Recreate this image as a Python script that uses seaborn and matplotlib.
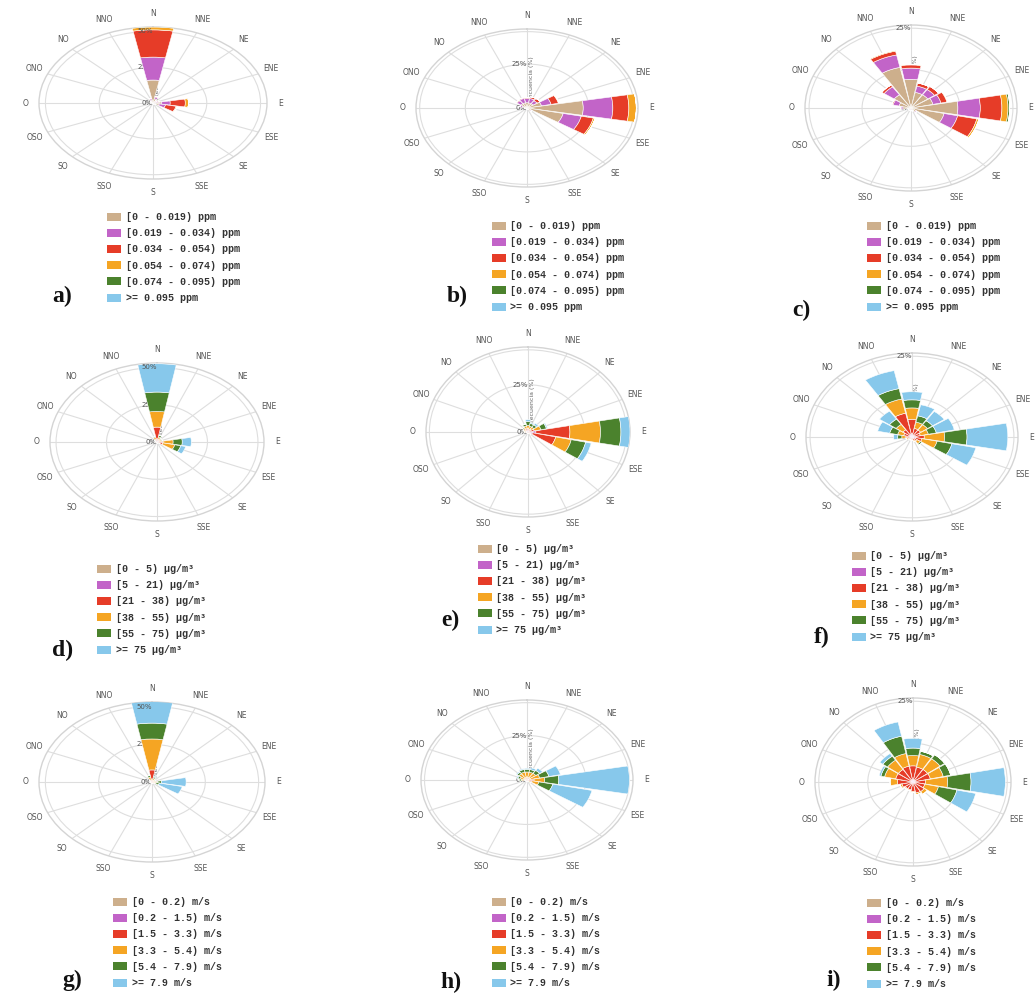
import numpy as np
import matplotlib
matplotlib.use("Agg")
import matplotlib.pyplot as plt
from matplotlib.patches import Patch
import seaborn as sns

sns.set_theme(style="white")
plt.rcParams['font.family'] = ['DejaVu Sans']

W, H = 1036, 996

directions = ["N", "NNE", "NE", "ENE", "E", "ESE", "SE", "SSE",
              "S", "SSO", "SO", "OSO", "O", "ONO", "NO", "NNO"]
bin_colors = ["#cdaf8c", "#c264c8", "#e63c28", "#f5a523", "#4b822d", "#87c8eb"]

ppm_labels = ["[0 - 0.019) ppm", "[0.019 - 0.034) ppm", "[0.034 - 0.054) ppm",
              "[0.054 - 0.074) ppm", "[0.074 - 0.095) ppm", ">= 0.095 ppm"]
pm_labels = ["[0 - 5) µg/m³", "[5 - 21) µg/m³", "[21 - 38) µg/m³",
             "[38 - 55) µg/m³", "[55 - 75) µg/m³", ">= 75 µg/m³"]
ws_labels = ["[0 - 0.2) m/s", "[0.2 - 1.5) m/s", "[1.5 - 3.3) m/s",
             "[3.3 - 5.4) m/s", "[5.4 - 7.9) m/s", ">= 7.9 m/s"]

# Frequencies (%) per bin (rows) and direction (columns: N ... NNO)
a_values = [
    [16, 3, 1.2, 1.5, 4, 3, 1, 0.7, 0.4, 0.4, 0.4, 0.4, 0.7, 0.7, 1, 2],
    [16, 1.2, 0.5, 1, 4, 3, 0.4, 0.3, 0.1, 0.1, 0.1, 0.1, 0.3, 0.3, 0.4, 1],
    [19, 0.5, 0.3, 0.5, 7, 5, 0.1, 0, 0, 0, 0, 0, 0, 0, 0.1, 0.3],
    [2, 0, 0, 0, 1.5, 0.5, 0, 0, 0, 0, 0, 0, 0, 0, 0, 0],
    [0.3, 0, 0, 0, 0, 0, 0, 0, 0, 0, 0, 0, 0, 0, 0, 0],
    [0, 0, 0, 0, 0, 0, 0, 0, 0, 0, 0, 0, 0, 0, 0, 0],
]
b_values = [
    [3, 3, 3, 6, 22.8, 15, 2, 0.8, 0.6, 0.4, 0.4, 0.4, 0.8, 2, 3, 3],
    [2.5, 2.5, 2, 4, 12, 7.5, 0.5, 0.2, 0.2, 0.1, 0.1, 0.1, 0.2, 1, 2, 2.5],
    [0.5, 1, 1.5, 3, 6.5, 5, 0, 0, 0, 0, 0, 0, 0, 0, 0.5, 0.5],
    [0, 0, 0, 0.3, 3, 0.7, 0, 0, 0, 0, 0, 0, 0, 0, 0, 0],
    [0, 0, 0, 0, 0, 0, 0, 0, 0, 0, 0, 0, 0, 0, 0, 0],
    [0, 0, 0, 0, 0, 0, 0, 0, 0, 0, 0, 0, 0, 0, 0, 0],
]
c_values = [
    [9, 5, 5, 5.5, 11.5, 8.3, 1.5, 0.8, 0.6, 0.6, 0.6, 0.6, 2, 3, 5, 13],
    [3.5, 2, 2, 2, 5.5, 3.4, 0.3, 0.2, 0.2, 0.2, 0.2, 0.2, 0.5, 1.5, 3, 4],
    [1, 1, 1.2, 1.5, 5.3, 4.8, 0, 0, 0, 0, 0, 0, 0, 0.3, 0.7, 1.2],
    [0.2, 0, 0, 0.2, 1.5, 0.5, 0, 0, 0, 0, 0, 0, 0, 0, 0, 0.3],
    [0, 0, 0, 0, 0.4, 0, 0, 0, 0, 0, 0, 0, 0, 0, 0, 0],
    [0, 0, 0, 0, 0, 0, 0, 0, 0, 0, 0, 0, 0, 0, 0, 0],
]
d_values = [
    [1, 0.5, 0.4, 0.4, 0.5, 0.5, 0.3, 0.2, 0.1, 0.1, 0.1, 0.1, 0.2, 0.2, 0.3, 0.4],
    [1, 0.5, 0.4, 0.4, 0.5, 0.5, 0.3, 0.2, 0.1, 0.1, 0.1, 0.1, 0.2, 0.2, 0.3, 0.4],
    [8, 1, 0.7, 0.7, 2, 2, 0.4, 0.3, 0.2, 0.2, 0.2, 0.2, 0.3, 0.3, 0.4, 1],
    [10.5, 1.5, 1, 1, 5, 6, 0.4, 0.3, 0.1, 0.1, 0.1, 0.1, 0.3, 0.3, 0.4, 1.5],
    [13, 1, 0.5, 0.5, 4.5, 3, 0.2, 0, 0, 0, 0, 0, 0, 0, 0.2, 0.5],
    [19, 0, 0, 0, 4.5, 2.5, 0, 0, 0, 0, 0, 0, 0, 0, 0, 0],
]
e_values = [
    [0.5, 0.3, 0.3, 0.4, 2, 1, 0.3, 0.2, 0.2, 0.2, 0.2, 0.2, 0.3, 0.3, 0.4, 0.4],
    [0.5, 0.3, 0.3, 0.4, 1.5, 1, 0.3, 0.2, 0.2, 0.2, 0.2, 0.2, 0.3, 0.3, 0.4, 0.4],
    [1, 1, 1, 2, 15, 10.5, 0.5, 0.4, 0.3, 0.2, 0.2, 0.2, 0.5, 0.7, 0.8, 1],
    [1.5, 1.5, 1.5, 3, 13.5, 7, 0.5, 0.2, 0.1, 0.1, 0.1, 0.1, 0.5, 0.7, 1, 1.5],
    [2, 1.5, 1.5, 2.5, 9, 6.5, 0, 0, 0, 0, 0, 0, 0, 0.3, 0.5, 1],
    [1, 0.5, 1, 0.5, 4, 2.5, 0, 0, 0, 0, 0, 0, 0, 0, 0, 0],
]
f_values = [
    [0.3, 0.2, 0.2, 0.2, 0.3, 0.3, 0.2, 0.2, 0.2, 0.2, 0.2, 0.2, 0.2, 0.2, 0.2, 0.3],
    [0.7, 0.5, 0.4, 0.4, 0.7, 0.7, 0.3, 0.3, 0.2, 0.2, 0.2, 0.3, 0.3, 0.4, 0.5, 0.7],
    [4.5, 2, 2, 1.5, 2, 1.5, 1, 0.6, 0.4, 0.4, 0.4, 0.6, 1, 1.5, 2, 6.5],
    [3.5, 2, 2, 2, 5, 3.8, 1, 0.4, 0.2, 0.2, 0.2, 0.4, 1, 1.5, 2, 4.5],
    [2.5, 2, 1.5, 2, 5.5, 3.7, 0.5, 0, 0, 0, 0, 0, 1, 2, 2, 3.3],
    [2.5, 3.5, 3.5, 4.5, 10, 6, 0, 0, 0, 0, 0, 0, 1, 3, 3, 5.7],
]
g_values = [
    [0.5, 0.2, 0.2, 0.2, 0.2, 0.2, 0.2, 0.2, 0.2, 0.2, 0.2, 0.2, 0.2, 0.2, 0.2, 0.2],
    [0.5, 0.2, 0.2, 0.2, 0.3, 0.3, 0.2, 0.2, 0.2, 0.2, 0.2, 0.2, 0.2, 0.2, 0.2, 0.2],
    [7, 0.5, 0.5, 0.5, 0.5, 0.5, 0.4, 0.3, 0.3, 0.2, 0.2, 0.2, 0.3, 0.3, 0.5, 1],
    [20.5, 1.5, 0.7, 0.7, 1.5, 1, 0.5, 0.3, 0.3, 0.2, 0.2, 0.2, 0.3, 0.3, 0.5, 2],
    [10.5, 1, 0.4, 0.4, 2, 1.5, 0.2, 0, 0, 0, 0, 0, 0, 0, 0.2, 1],
    [15, 0.5, 0, 0, 11.5, 11, 0, 0, 0, 0, 0, 0, 0, 0, 0, 0],
]
h_values = [
    [0.2, 0.2, 0.2, 0.2, 0.3, 0.2, 0.2, 0.2, 0.2, 0.2, 0.2, 0.2, 0.2, 0.2, 0.2, 0.2],
    [0.3, 0.3, 0.3, 0.3, 0.7, 0.5, 0.2, 0.2, 0.2, 0.2, 0.2, 0.2, 0.3, 0.3, 0.3, 0.3],
    [1, 1, 1, 1, 2, 1.5, 0.3, 0.3, 0.2, 0.2, 0.2, 0.2, 0.4, 0.5, 0.7, 1],
    [3, 3, 3, 4, 4.5, 3, 1, 0.4, 0.3, 0.2, 0.2, 0.3, 1.5, 2, 3, 3],
    [1.5, 1.5, 2, 4, 6, 6, 0.5, 0, 0, 0, 0, 0, 1, 1, 1, 1.5],
    [0.5, 1, 1.5, 5, 30, 17, 0, 0, 0, 0, 0, 0, 0, 0.5, 0.5, 0.5],
]
i_values = [
    [0.2, 0.2, 0.2, 0.2, 0.2, 0.2, 0.2, 0.2, 0.2, 0.2, 0.2, 0.2, 0.2, 0.2, 0.2, 0.2],
    [0.5, 0.5, 0.5, 0.5, 0.5, 0.5, 0.4, 0.3, 0.3, 0.3, 0.3, 0.3, 0.4, 0.5, 0.5, 0.6],
    [4.3, 4, 4, 4, 2.6, 2.5, 3, 3, 2.5, 2, 2, 2.5, 3.5, 4, 4, 4.2],
    [3.2, 4, 4, 3.5, 5.9, 3.7, 1, 0.5, 0.3, 0.3, 0.3, 0.5, 2, 3, 3.5, 4],
    [2.3, 1, 1.5, 2, 6.2, 5, 0, 0, 0, 0, 0, 0, 0, 1, 1.5, 5.5],
    [3, 0, 0, 0, 9.1, 5.1, 0, 0, 0, 0, 0, 0, 0, 0.5, 1, 4.5],
]

fig = plt.figure(figsize=(W / 100, H / 100), dpi=100)
fig.patch.set_facecolor("white")


def add_rose(cx, cy, rx, ry, values, rmax, rings, inner_label, top_label):
    ax = fig.add_axes([(cx - rx) / W, 1 - (cy + ry) / H, 2 * rx / W, 2 * ry / H],
                      projection="polar")
    ax.set_aspect("auto")
    ax.set_theta_zero_location("N")
    ax.set_theta_direction(-1)
    theta = np.deg2rad(np.arange(16) * 22.5)
    bottom = np.zeros(16)
    for k in range(6):
        v = np.array(values[k], dtype=float)
        ax.bar(theta, v, width=2 * np.pi / 16 * 0.93, bottom=bottom,
               color=bin_colors[k], edgecolor="white", linewidth=0.4, zorder=3)
        bottom += v
    ax.set_ylim(0, rmax)
    ax.set_xticks(theta)
    ax.set_xticklabels(directions, fontsize=5.5, color="#555555")
    ax.tick_params(axis="x", pad=-3)
    ax.set_yticks(rings)
    ax.set_yticklabels([])
    ax.grid(True, color="#dedede", linewidth=0.8)
    ax.spines["polar"].set_color("#d4d4d4")
    ax.spines["polar"].set_linewidth(1.0)
    ax.set_facecolor("white")
    ax.text(0, 0, "0%", fontsize=5, color="#555555", ha="right", va="center", zorder=2)
    if inner_label:
        ax.text(0, rings[0], inner_label, fontsize=5, color="#555555",
                ha="right", va="center", zorder=2)
    if top_label:
        ax.text(0, rings[-1], top_label, fontsize=5, color="#555555",
                ha="right", va="center", zorder=4)
    ax.text(np.deg2rad(3), rmax * 0.36, "Frecuencia (%)", fontsize=4.5,
            color="#666666", rotation=90, ha="left", va="center", zorder=2)
    return ax


def add_legend(x, y, labels):
    handles = [Patch(facecolor=c, edgecolor="none") for c in bin_colors]
    fig.legend(handles, labels, loc="upper left", bbox_to_anchor=(x / W, 1 - y / H),
               frameon=False, prop={"family": "Liberation Mono", "weight": "bold", "size": 7.2},
               handlelength=1.4, handleheight=0.85, handletextpad=0.45,
               labelspacing=0.62, borderpad=0, borderaxespad=0, labelcolor="#333333")


def add_tag(x, y, s):
    fig.text(x / W, 1 - y / H, s, fontsize=17, fontweight="bold",
             family="Liberation Serif", ha="center", va="center", color="#111111")


panels = [
    (153, 103, 114, 76, a_values, 53, [25, 50], "25%", "50%", ppm_labels, 107, 212, 62, 296, "a)"),
    (527, 108, 111, 79, b_values, 45, [25, 43.5], "25%", None, ppm_labels, 492, 221, 457, 296, "b)"),
    (911, 108, 106, 83, c_values, 26, [12, 25], None, "25%", ppm_labels, 867, 221, 801, 310, "c)"),
    (157, 442, 107, 79, d_values, 53, [25, 50], "25%", "50%", pm_labels, 97, 564, 63, 650, "d)"),
    (528, 432, 102, 85, e_values, 45, [25, 43.5], "25%", None, pm_labels, 478, 544, 450, 620, "e)"),
    (912, 437, 106, 84, f_values, 26, [12, 25], None, "25%", pm_labels, 852, 551, 822, 637, "f)"),
    (152, 782, 113, 80, g_values, 53, [25, 50], "25%", "50%", ws_labels, 113, 897, 72, 980, "g)"),
    (527, 780, 106, 80, h_values, 45, [25, 43.5], "25%", None, ws_labels, 492, 897, 451, 982, "h)"),
    (913, 782, 98, 84, i_values, 26, [12, 25], None, "25%", ws_labels, 867, 898, 834, 980, "i)"),
]

for (cx, cy, rx, ry, vals, rmax, rings, il, tl, labs, lx, ly, tx, ty, tag) in panels:
    add_rose(cx, cy, rx, ry, vals, rmax, rings, il, tl)
    add_legend(lx, ly, labs)
    add_tag(tx, ty, tag)

fig.savefig("out.png", dpi=100, facecolor="white")
